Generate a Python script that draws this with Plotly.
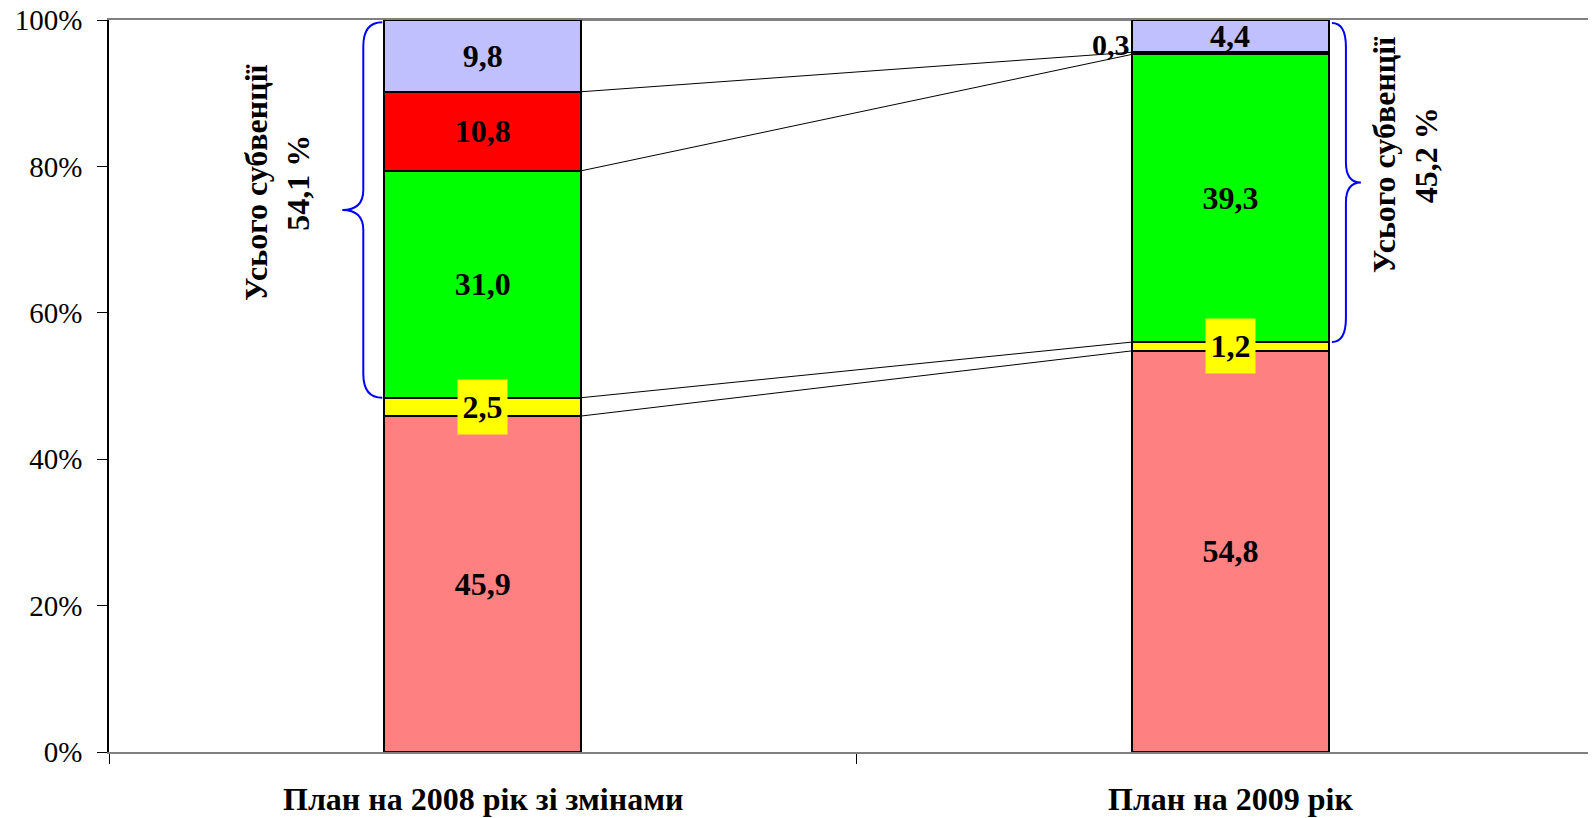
import plotly.graph_objects as go
import numpy as np

# ---- data ----
categories = ["План на 2008 рік зі змінами", "План на 2009 рік"]
seg_salmon = [45.9, 54.8]
seg_yellow = [2.5, 1.2]
seg_green = [31.0, 39.3]
seg_red = [10.8, 0.3]
seg_lavender = [9.8, 4.4]
subv_totals = ["54,1", "45,2"]
y_ticks = [0, 20, 40, 60, 80, 100]
y_tick_labels = ["0%", "20%", "40%", "60%", "80%", "100%"]

series = [seg_salmon, seg_yellow, seg_green, seg_red, seg_lavender]
colors = ["#FF8080", "#FFFF00", "#00FF00", "#FF0000", "#C0C0FF"]
small_threshold = 5.0

FONT = "Liberation Serif"
xs = [0, 1]
bw = 0.2635
px_x = 1 / 747.5   # data units per pixel (x)
px_y = 100 / 732   # data units per pixel (y)

def fmt(v):
    return f"{v:.1f}".replace(".", ",")

fig = go.Figure()

# series lines (drawn first, under bars)
cum = np.cumsum(np.array(series), axis=0)
for k in range(len(series)):
    fig.add_trace(go.Scatter(
        x=[xs[0] + bw / 2, xs[1] - bw / 2], y=[cum[k][0], cum[k][1]],
        mode="lines", line=dict(color="black", width=1), hoverinfo="skip",
        showlegend=False))

for k, (vals, col) in enumerate(zip(series, colors)):
    texts = [fmt(v) for v in vals]
    tpos = ["inside" if v > small_threshold else "none" for v in vals]
    fig.add_trace(go.Bar(
        x=xs, y=vals, width=[bw, bw], marker=dict(color=col, line=dict(color="black", width=2)),
        text=texts, textposition=tpos, insidetextanchor="middle", textangle=0,
        textfont=dict(family=FONT, size=32, color="black", weight="bold"),
        showlegend=False))

annotations = []
# small-segment labels
for k, vals in enumerate(series):
    for i, v in enumerate(vals):
        if v <= small_threshold:
            mid = cum[k][i] - v / 2
            if k == 1:
                annotations.append(dict(
                    x=xs[i], y=mid, xref="x", yref="y", text=f"<b>{fmt(v)}</b>",
                    showarrow=False, bgcolor="#FFFF00", borderpad=0, width=49, height=54,
                    font=dict(family=FONT, size=32, color="black")))
            elif v < 1:
                annotations.append(dict(
                    x=xs[i] - bw / 2, y=mid, xref="x", yref="y", text=f"<b>{fmt(v)}</b>",
                    showarrow=False, xanchor="right", yshift=9,
                    font=dict(family=FONT, size=30, color="black")))
            else:
                annotations.append(dict(
                    x=xs[i], y=mid, xref="x", yref="y", text=f"<b>{fmt(v)}</b>",
                    showarrow=False, font=dict(family=FONT, size=32, color="black")))

# category labels
for i, c in enumerate(categories):
    annotations.append(dict(
        x=xs[i], y=0, xref="x", yref="paper", text=f"<b>{c}</b>", showarrow=False,
        yanchor="middle", yshift=-47, font=dict(family=FONT, size=32, color="black")))

# brace annotations (rotated)
subv_pos = [xs[0] - 0.275, xs[1] + 0.234]
for i, xp in enumerate(subv_pos):
    mid = (100 + cum[1][i]) / 2
    annotations.append(dict(
        x=xp, y=mid + 3.7, xref="x", yref="y", textangle=-90,
        text=f"<b>Усього субвенції<br>{subv_totals[i]} %</b>", showarrow=False,
        font=dict(family=FONT, size=32, color="black")))

# braces
shapes = []
def brace_path(x_tip, x_spine, x_point, y_top, y_bot):
    ym = (y_top + y_bot) / 2
    cy = 24 * px_y
    cy2 = 20 * px_y
    p = (f"M {x_tip},{y_top} "
         f"Q {x_spine},{y_top} {x_spine},{y_top - cy} "
         f"L {x_spine},{ym + cy2} "
         f"Q {x_spine},{ym} {x_point},{ym} "
         f"Q {x_spine},{ym} {x_spine},{ym - cy2} "
         f"L {x_spine},{y_bot + cy} "
         f"Q {x_spine},{y_bot} {x_tip},{y_bot}")
    return p

x_tip1 = xs[0] - bw / 2 - 2 * px_x
shapes.append(dict(type="path", xref="x", yref="y",
                   path=brace_path(x_tip1, x_tip1 - 19 * px_x, x_tip1 - 40 * px_x, 100 - 0.3, cum[1][0]),
                   line=dict(color="#0000FF", width=2)))
x_tip2 = xs[1] + bw / 2 + 3 * px_x
shapes.append(dict(type="path", xref="x", yref="y",
                   path=brace_path(x_tip2, x_tip2 + 14 * px_x, x_tip2 + 29 * px_x, 100 - 0.4, cum[1][1]),
                   line=dict(color="#0000FF", width=2)))

fig.update_layout(
    barmode="stack",
    width=1588, height=810,
    margin=dict(l=101, r=0, t=12, b=66, autoexpand=False),
    plot_bgcolor="white", paper_bgcolor="white",
    annotations=annotations, shapes=shapes,
    xaxis=dict(range=[-0.5, 1.489], tickvals=[-0.5, 0.5, 1.5], showticklabels=False,
               ticks="outside", ticklen=10, tickcolor="black", tickwidth=1,
               showline=True, linecolor="#808080", linewidth=2, mirror=True,
               showgrid=False, zeroline=False, automargin=False),
    yaxis=dict(range=[0, 100], tickmode="array", tickvals=y_ticks, ticktext=y_tick_labels,
               ticks="outside", ticklen=10, tickcolor="black", ticklabelstandoff=9,
               ticklabeloverflow="allow", automargin=False,
               tickfont=dict(family=FONT, size=29, color="black"),
               showline=True, linecolor="black", linewidth=1.5,
               showgrid=False, zeroline=False),
)

fig.write_html("out.html")
